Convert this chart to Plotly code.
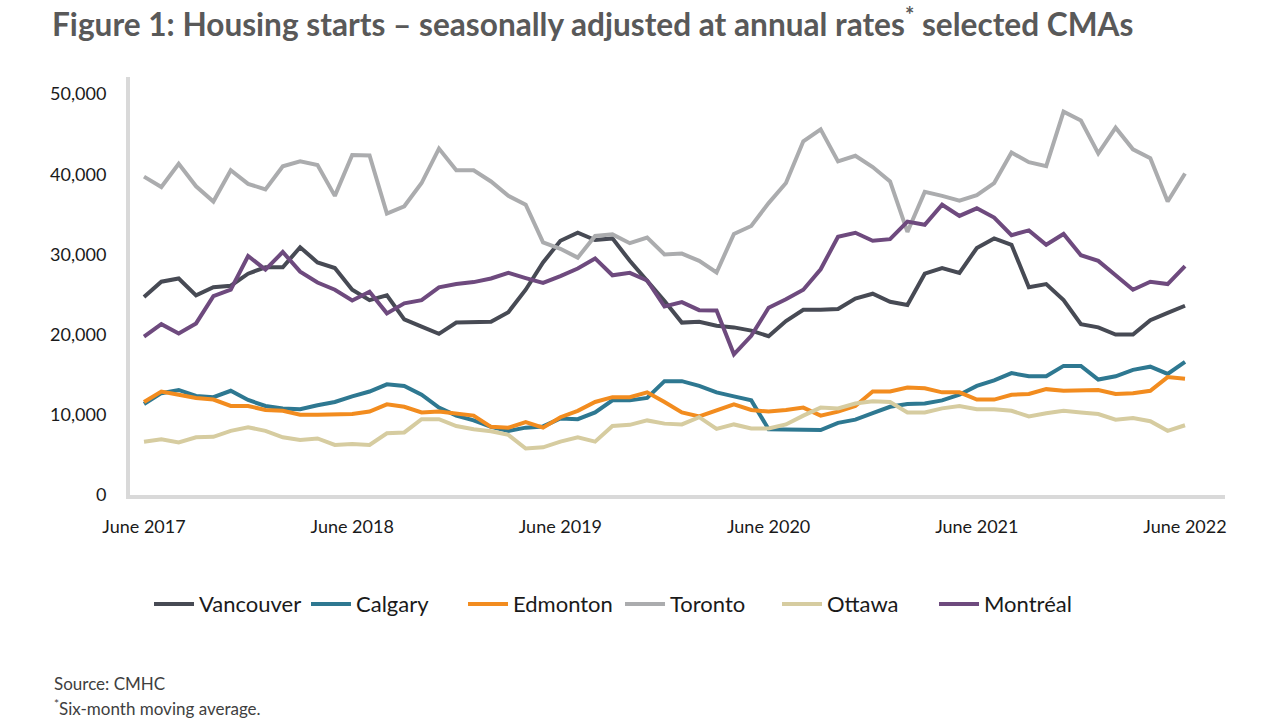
import plotly.graph_objects as go

months = list(range(61))  # June 2017 .. June 2022, monthly
tick_pos = [0, 12, 24, 36, 48, 60]
tick_text = ["June 2017", "June 2018", "June 2019", "June 2020", "June 2021", "June 2022"]
y_ticks = [0, 10000, 20000, 30000, 40000, 50000]
y_tick_text = ["0", "10,000", "20,000", "30,000", "40,000", "50,000"]

vancouver = [24700, 26600, 27000, 24900, 25900, 26100, 27600, 28400, 28400, 30900,
             29000, 28300, 25600, 24300, 24900, 21900, 21000, 20100, 21500, 21600,
             21600, 22800, 25600, 29000, 31700, 32700, 31800, 32000, 29200, 26700,
             24200, 21500, 21600, 21100, 20900, 20500, 19800, 21700, 23100, 23100,
             23200, 24500, 25100, 24100, 23700, 27600, 28300, 27700, 30800, 32000,
             31200, 25900, 26300, 24300, 21300, 20900, 20000, 20000, 21800, 22700,
             23600]
calgary = [11350, 12700, 13100, 12350, 12200, 13000, 11850, 11100, 10800, 10700,
           11200, 11600, 12300, 12900, 13800, 13600, 12500, 10900, 9900, 9300,
           8500, 8000, 8400, 8550, 9550, 9450, 10300, 11800, 11800, 12100,
           14200, 14200, 13600, 12800, 12300, 11800, 8200, 8200, 8200, 8100,
           9000, 9400, 10200, 11000, 11350, 11400, 11800, 12500, 13600, 14300,
           15200, 14800, 14800, 16100, 16100, 14400, 14800, 15600, 16000, 15100,
           16600]
edmonton = [11600, 12900, 12500, 12100, 11900, 11100, 11100, 10600, 10500, 10000,
            10000, 10000, 10100, 10400, 11300, 11000, 10300, 10400, 10200, 9900,
            8500, 8400, 9100, 8400, 9700, 10500, 11600, 12200, 12200, 12800,
            11600, 10300, 9800, 10600, 11300, 10600, 10400, 10600, 10900, 9900,
            10400, 11100, 12900, 12900, 13400, 13300, 12800, 12800, 11900, 11900,
            12500, 12600, 13200, 13000, 13000, 13100, 12600, 12700, 13000, 14700,
            14500]
toronto = [39700, 38400, 41300, 38500, 36600, 40500, 38800, 38100, 41000, 41600,
           41150, 37300, 42400, 42350, 35100, 36000, 38900, 43200, 40500, 40500,
           39100, 37300, 36200, 31500, 30700, 29600, 32300, 32500, 31400, 32100,
           30000, 30100, 29200, 27750, 32550, 33550, 36400, 38900, 44100, 45600,
           41600, 42300, 40900, 39100, 32800, 37800, 37300, 36700, 37400, 38900,
           42700, 41500, 41000, 47800, 46700, 42600, 45800, 43100, 42000, 36600,
           40100]
ottawa = [6650, 6950, 6550, 7200, 7250, 8000, 8450, 8000, 7200, 6850,
          7050, 6250, 6350, 6250, 7700, 7800, 9450, 9450, 8600, 8200,
          7950, 7500, 5800, 5950, 6650, 7200, 6650, 8600, 8750, 9300,
          8900, 8800, 9700, 8250, 8800, 8300, 8300, 8800, 9900, 10900,
          10800, 11400, 11700, 11600, 10300, 10300, 10800, 11100, 10700, 10700,
          10500, 9800, 10200, 10500, 10300, 10100, 9400, 9600, 9200, 8000,
          8700]
montreal = [19750, 21300, 20150, 21400, 24800, 25600, 29800, 28100, 30300, 27850,
            26500, 25600, 24250, 25350, 22650, 23900, 24300, 25900, 26300, 26550,
            27000, 27700, 27050, 26450, 27300, 28250, 29500, 27400, 27700, 26750,
            23500, 24050, 23050, 23000, 17550, 19850, 23350, 24400, 25600, 28150,
            32200, 32700, 31700, 31900, 34100, 33700, 36200, 34800, 35750, 34600,
            32400, 33000, 31200, 32550, 29900, 29200, 27400, 25600, 26600, 26300,
            28550]

series = [
    ("Vancouver", vancouver, "#474A54"),
    ("Calgary", calgary, "#2E7891"),
    ("Edmonton", edmonton, "#F28C1F"),
    ("Toronto", toronto, "#ABACAE"),
    ("Ottawa", ottawa, "#D6CCA0"),
    ("Montréal", montreal, "#6E4A7E"),
]

FONT = "Lato"

fig = go.Figure()
for name, vals, col in series:
    fig.add_trace(go.Scatter(x=months, y=vals, mode="lines", name=name,
                             line=dict(color=col, width=4)))

fig.update_layout(
    width=1280, height=727,
    margin=dict(l=130, r=55, t=77, b=232),
    paper_bgcolor="white", plot_bgcolor="white",
    font=dict(family=FONT, color="#1a1a1a", size=18),
    showlegend=True,
    legend=dict(orientation="h", x=0.4475, xanchor="center", y=-0.261, yanchor="middle",
                font=dict(size=22, family=FONT, color="#1a1a1a"),
                itemwidth=40, traceorder="normal",
                entrywidth=102, entrywidthmode="pixels"),
    xaxis=dict(range=[-0.807, 62.305], tickvals=tick_pos, ticktext=tick_text,
               showgrid=False, zeroline=False, showline=True, linecolor="#D9D9D9",
               linewidth=4, ticks="outside", ticklen=12, tickcolor="rgba(0,0,0,0)",
               tickfont=dict(size=18, family=FONT, color="#1a1a1a")),
    yaxis=dict(range=[0, 52125], tickvals=y_ticks, ticktext=y_tick_text,
               showgrid=False, zeroline=False, showline=True, linecolor="#D9D9D9",
               linewidth=4, ticks="outside", ticklen=16, tickcolor="rgba(0,0,0,0)",
               tickfont=dict(size=18, family=FONT, color="#1a1a1a")),
    annotations=[
        dict(text="<b>Figure 1: Housing starts – seasonally adjusted at annual rates<sup>*</sup> selected CMAs</b>",
             xref="paper", yref="paper", x=-0.0730, y=1.1316, xanchor="left", yanchor="middle",
             showarrow=False, font=dict(size=31.6, family=FONT, color="#595959")),
        dict(text="Source: CMHC", xref="paper", yref="paper", x=-0.0712, y=-0.4498,
             xanchor="left", yanchor="middle", showarrow=False,
             font=dict(size=17, family=FONT, color="#404040")),
        dict(text="<sup>*</sup>Six-month moving average.", xref="paper", yref="paper",
             x=-0.0712, y=-0.5072, xanchor="left", yanchor="middle", showarrow=False,
             font=dict(size=17, family=FONT, color="#404040")),
    ],
)

fig.write_html("out.html")
